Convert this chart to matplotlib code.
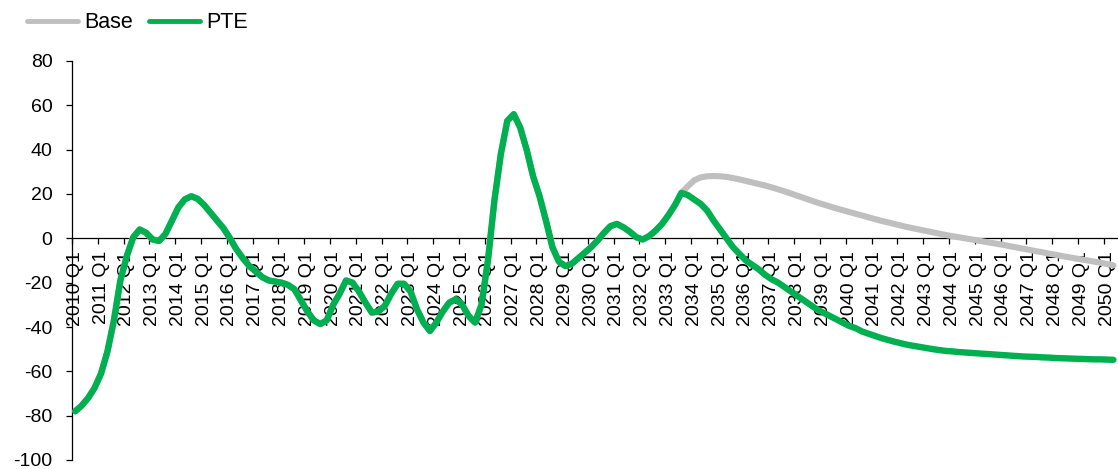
import numpy as np
from matplotlib import pyplot as plt
from matplotlib.lines import Line2D

plt.rcParams['font.family'] = ['Liberation Sans', 'DejaVu Sans']
plt.rcParams['axes.unicode_minus'] = False

# quarters from 2010 Q1 onwards, one value per quarter
years = list(range(2010, 2051))
year_labels = ['%d Q1' % y for y in years]

pte = [-78, -75.5, -72, -67.5, -61, -51, -37, -19, -8, 0.5,
       4, 2.5, -0.5, -1.2, 2, 8, 14, 17.6, 19, 17.8,
       15, 11.5, 8, 4.5, 0, -5, -9, -12.5, -15, -17.5,
       -19, -19.5, -20, -21, -23, -28, -33, -37, -38.7, -37,
       -30, -25, -19, -20, -24, -29, -33.5, -33, -30.5, -25,
       -20.5, -20.5, -24, -32, -38, -41.8, -38, -33, -29, -27.5,
       -30, -35, -38, -30, -10, 17, 38, 53, 56, 50,
       40, 28, 19, 8, -4, -10.5, -12.5, -11.5, -9, -6.5,
       -4, -1, 2.5, 5.5, 6.5, 5, 3, 0.5, -0.5, 1,
       3.5, 6.5, 10.5, 15, 20.5, 19.5, 17.5, 15.5, 12.5, 8,
       4, 0, -4, -7, -10, -12, -14, -16.5, -18.5, -20,
       -22, -24, -26, -28, -30, -32, -33.5, -35, -36.5, -38,
       -39.5, -40.5, -42, -43, -44, -45, -45.8, -46.6, -47.3, -48,
       -48.5, -49, -49.5, -50, -50.4, -50.8, -51, -51.3, -51.5, -51.7,
       -51.9, -52.1, -52.3, -52.5, -52.7, -52.9, -53.1, -53.3, -53.4, -53.5,
       -53.7, -53.8, -54, -54.1, -54.2, -54.3, -54.4, -54.5, -54.6, -54.6,
       -54.7, -54.8]

# base follows PTE until 2033 Q3, then splits off
split = 94
base_tail = [20.5, 23.5, 26.2, 27.5, 28, 28.1, 28, 27.7, 27.2, 26.6,
             25.9, 25.2, 24.5, 23.8, 23, 22.1, 21.2, 20.2, 19.2, 18.2,
             17.2, 16.2, 15.3, 14.4, 13.5, 12.7, 11.9, 11.1, 10.3, 9.5,
             8.7, 7.9, 7.2, 6.5, 5.8, 5.1, 4.5, 3.9, 3.3, 2.7,
             2.1, 1.5, 1.0, 0.5, 0, -0.5, -1.0, -1.5, -2.0, -2.5,
             -3.0, -3.6, -4.1, -4.7, -5.2, -5.8, -6.3, -6.9, -7.4, -8.0,
             -8.5, -9.0, -9.5, -10.0, -10.5, -11.0, -11.6, -12.2]
base = pte[:split] + base_tail

green = '#00B050'
grey = '#BFBFBF'

fig = plt.figure(figsize=(11.18, 4.69), dpi=100)
ax = fig.add_axes([72/1118, 1 - 460/469, 1 - 72/1118, 399/469])

x = np.arange(len(pte)) + 0.5
ax.plot(x[:len(base)], base, color=grey, lw=4.4, zorder=3,
        solid_capstyle='round', solid_joinstyle='round')
ax.plot(x, pte, color=green, lw=4.6, zorder=4,
        solid_capstyle='round', solid_joinstyle='round')

ax.set_xlim(0, 1046/6.4486)
ax.set_ylim(-100, 80)
ax.set_yticks(range(-100, 81, 20))

for s in ['top', 'right']:
    ax.spines[s].set_visible(False)
ax.spines['bottom'].set_position(('data', 0))
ax.spines['bottom'].set_linewidth(0.9)
ax.spines['left'].set_linewidth(0.9)

# ticks at year boundaries, labels centred on the Q1 category
ax.set_xticks([4*k for k in range(len(years))])
ax.set_xticklabels([])
ax.set_xticks([4*k + 0.5 for k in range(len(years))], minor=True)
ax.set_xticklabels(year_labels, minor=True, rotation=90, fontsize=14)
ax.tick_params(axis='x', which='major', direction='out', length=4.5, width=0.9)
ax.tick_params(axis='x', which='minor', length=0, pad=9)
ax.tick_params(axis='y', direction='out', length=4, width=0.9, labelsize=14, pad=10)

handles = [Line2D([], [], color=grey, lw=3.5, solid_capstyle='round'),
           Line2D([], [], color=green, lw=3.5, solid_capstyle='round')]
fig.legend(handles, ['Base', 'PTE'], loc='center left', bbox_to_anchor=(0.024, 0.951),
           ncol=2, frameon=False, fontsize=15.5, handlelength=2.4, handletextpad=0.25,
           columnspacing=0.75, borderaxespad=0, borderpad=0)

fig.savefig('out.png', dpi=100)
